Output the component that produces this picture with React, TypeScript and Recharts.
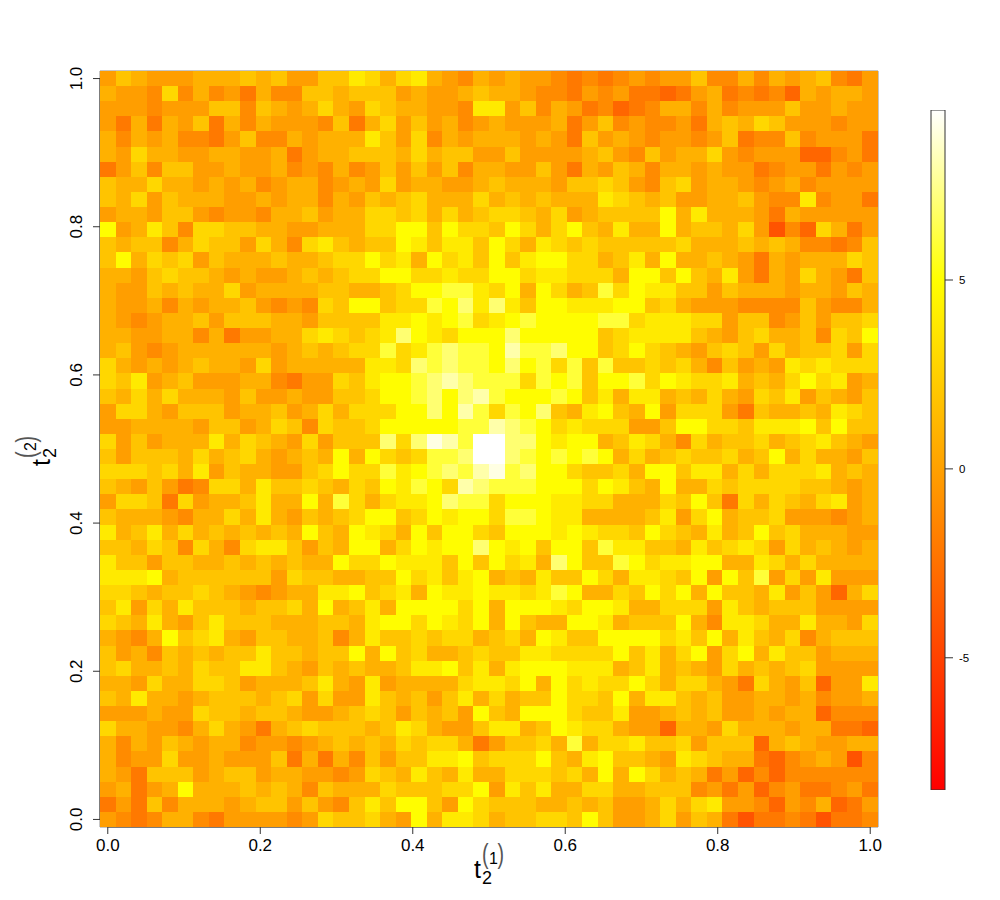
import * as React from "react";
import {
  BarChart,
  Bar,
  ScatterChart,
  Scatter,
  XAxis,
  YAxis,
  ReferenceArea,
  ReferenceLine,
} from "recharts";

const xTicks = [0, 0.2, 0.4, 0.6, 0.8, 1];
const yTicks = [0, 0.2, 0.4, 0.6, 0.8, 1];
const colorbarTicks = [-5, 0, 5];
const colorbarRange = [-8.5, 9.5];

// cell values, top row first, 50 columns per row
const heatRows: number[][] = [
  [0,2,1,0,0,0,1,1,1,2,1,2,0,0,2,2,4,3,1,3,4,1,0,-1,1, 0,1,0,0,-1,-2,-1,-2,-1,0,-1,0,0,2,-1,-1,1,-1,1,0,1,2,-1,-2,0],
  [1,0,0,-1,3,-1,1,-1,0,-2,1,-1,-1,2,2,1,2,2,2,0,1,0,0,1,2, 1,1,0,-1,-1,-2,0,-1,0,-2,-2,-3,-2,0,1,-2,-1,-2,-1,-3,1,0,1,1,0],
  [0,0,0,-1,0,0,0,2,2,-1,2,1,0,1,3,1,0,3,2,1,1,0,0,-1,4, 4,0,2,-1,1,0,-2,-1,-3,-2,-1,1,1,-1,1,-1,0,0,0,2,0,0,1,0,0],
  [0,-2,1,-2,1,0,2,-2,1,-1,1,0,0,0,-1,2,-2,1,3,0,2,0,1,-1,0, 1,0,0,0,1,-2,0,2,-1,0,-1,-1,0,-2,1,2,1,3,2,0,0,0,-1,0,0],
  [1,-1,1,0,1,-1,-1,-2,0,2,-1,-1,1,0,1,1,1,4,2,0,3,-1,1,0,1, 1,1,0,1,0,-2,2,0,1,0,-1,0,0,-1,0,2,-2,-1,-1,2,-1,0,0,0,-2],
  [1,0,3,1,1,0,0,1,1,0,0,1,-2,0,1,1,2,2,2,1,3,1,2,2,0, 0,2,0,0,0,0,1,2,0,-1,2,0,1,1,3,0,-1,0,0,0,-3,-3,-1,0,-2],
  [-2,0,2,-1,2,2,0,0,1,0,0,1,-1,0,-1,1,-1,0,2,0,2,0,2,-1,1, 1,0,0,2,0,-2,1,0,2,1,-1,1,1,0,1,0,0,-2,-1,0,0,-2,0,-1,0],
  [2,1,1,3,1,1,0,1,0,1,-1,0,1,1,-1,0,1,0,3,0,1,1,0,0,1, 2,1,1,1,0,2,2,3,2,0,-1,2,3,0,1,1,0,-1,0,1,-1,0,0,0,0],
  [2,1,3,0,2,1,1,1,0,0,1,0,1,1,-1,1,0,2,1,2,3,1,1,1,3, 1,2,1,2,1,1,1,4,3,2,1,2,0,0,1,1,2,0,-1,-1,4,-1,0,0,-2],
  [0,1,1,0,2,2,0,-1,0,0,-1,1,1,2,0,1,1,3,3,2,3,1,3,1,2, 3,3,2,1,3,0,1,2,2,2,2,5,1,4,1,1,1,0,-2,1,0,0,0,0,0],
  [5,0,1,4,2,-1,3,3,2,2,1,1,0,0,1,1,1,3,3,5,5,2,5,3,3, 2,5,3,1,3,5,2,1,4,1,1,5,1,2,2,1,3,0,-4,-1,-3,3,1,-2,0],
  [2,1,2,2,-1,1,3,2,2,0,3,1,-1,3,4,2,1,2,2,5,4,2,4,4,2, 5,3,1,4,3,2,3,2,2,2,2,2,3,1,1,1,2,1,2,1,-1,-1,-2,-1,2],
  [2,5,1,3,2,3,0,2,1,1,1,2,1,1,2,3,3,5,3,4,1,5,3,4,2, 5,2,4,5,5,3,3,1,2,4,1,5,1,1,2,1,0,-2,1,0,1,1,1,3,2],
  [1,1,0,2,3,2,2,1,0,1,0,0,1,2,1,2,3,3,5,5,3,3,4,3,3, 5,5,3,4,4,3,3,3,1,5,5,2,5,2,1,4,0,-2,1,0,3,1,0,-2,2],
  [1,0,0,2,1,2,1,1,3,0,1,1,1,1,2,2,1,1,2,3,5,5,6,6,4, 3,5,1,5,3,1,2,6,3,5,4,4,2,2,0,2,1,1,1,0,1,1,0,2,1],
  [1,0,0,1,-1,1,0,1,1,2,0,-1,0,-1,3,2,5,5,2,3,3,6,5,7,4, 7,4,2,5,5,4,4,4,5,5,2,3,1,0,0,0,-1,-1,-1,-1,2,0,-1,-1,1],
  [1,0,-1,0,1,1,2,0,2,2,2,1,1,0,2,2,2,2,4,4,5,4,5,6,3, 4,5,6,5,5,5,5,6,6,3,4,4,4,3,3,0,2,2,-1,0,2,0,2,2,3],
  [1,1,0,0,1,1,-1,1,-2,0,0,1,1,3,4,3,2,3,4,7,5,4,3,5,5, 5,7,5,5,5,5,5,2,3,4,4,4,4,2,1,0,2,3,1,1,2,-1,3,2,5],
  [1,2,0,-1,0,1,1,1,1,1,1,0,1,2,1,2,3,3,6,3,4,6,7,6,6, 5,8,6,6,7,5,5,2,3,5,3,2,1,0,2,3,2,0,3,1,2,2,3,0,3],
  [3,1,0,1,0,1,2,1,1,0,3,0,1,1,1,1,1,4,4,3,7,6,7,6,6, 5,7,5,6,3,6,2,6,2,2,3,2,3,1,-1,2,0,1,0,4,3,4,3,3,3],
  [3,2,4,0,1,2,0,0,0,1,1,-1,-2,0,0,3,2,4,5,5,6,7,8,7,6, 6,6,3,6,5,6,2,5,5,6,3,5,4,3,3,4,1,2,1,3,5,3,4,0,1],
  [2,1,3,1,3,1,1,1,0,2,0,0,1,0,0,2,2,3,5,5,6,7,5,7,8, 6,5,5,5,6,5,2,4,1,4,4,1,2,1,3,1,0,3,2,4,0,2,1,0,2],
  [0,3,3,1,0,2,2,2,0,1,1,2,0,1,3,1,3,3,3,5,5,7,5,8,6, 3,6,5,7,2,1,4,5,2,1,5,0,3,3,3,0,-2,2,1,1,2,1,4,3,2],
  [0,0,1,1,1,1,0,2,2,0,1,3,2,-1,3,2,2,3,5,5,5,5,5,6,6, 8,7,6,5,3,4,3,3,3,0,0,2,5,5,3,3,2,4,4,4,5,2,5,2,2],
  [3,0,2,0,1,1,1,4,1,3,2,1,0,3,0,2,2,2,7,3,7,9,8,6,9.5, 9.5,7,7,5,4,5,5,1,2,4,3,1,-1,3,1,2,2,3,1,2,3,4,2,1,0],
  [2,0,2,2,2,1,3,1,2,3,1,0,1,2,1,5,1,5,3,2,3,6,6,7,9.5, 9.5,7,6,5,6,5,6,5,1,3,1,2,3,2,2,3,1,2,5,1,3,1,1,0,2],
  [3,3,3,2,3,1,4,0,2,1,1,0,0,2,3,5,3,3,6,4,5,6,7,6,8, 9,6,7,5,5,3,2,2,3,1,5,5,2,4,4,1,3,1,3,3,3,4,1,2,1],
  [2,1,0,2,0,-2,-1,3,3,1,4,2,2,3,2,1,3,2,5,4,6,5,3,8,7, 6,6,6,5,5,5,3,5,4,2,1,5,1,1,3,2,3,3,3,3,2,2,1,0,1],
  [0,3,3,2,-2,3,0,1,1,2,4,1,1,5,1,6,3,1,3,4,4,5,7,6,6, 3,5,5,5,4,4,3,3,1,1,1,3,2,5,2,-2,3,1,3,2,1,3,4,0,1],
  [2,1,1,1,0,-1,1,1,3,1,4,1,0,2,1,2,3,5,5,2,3,5,4,5,5, 3,6,6,5,4,4,1,1,1,1,2,4,0,3,5,1,2,2,3,0,0,0,-1,0,1],
  [4,1,2,4,1,3,1,2,1,2,1,2,1,5,2,1,5,4,3,1,5,2,5,5,3, 2,5,5,5,4,5,4,3,3,2,5,3,2,1,4,1,2,5,2,3,1,1,1,0,0],
  [2,2,1,3,2,-1,3,1,-1,3,4,4,2,0,2,1,5,5,1,3,5,4,5,5,7, 5,4,5,2,5,5,2,6,4,4,2,2,1,4,2,3,4,3,0,3,1,2,1,0,1],
  [4,2,2,0,2,2,1,1,2,1,2,1,2,1,1,5,3,3,5,4,4,4,2,5,2, 5,3,4,1,7,5,2,2,6,5,3,4,4,5,5,1,1,4,3,1,3,1,1,1,1],
  [4,4,4,5,1,2,2,2,2,2,2,0,3,2,2,1,1,2,2,5,3,4,2,4,5, 1,2,1,4,2,2,5,3,1,4,4,3,2,5,0,5,2,6,0,3,0,4,0,0,0],
  [3,3,2,1,2,2,3,2,1,0,-1,0,1,1,4,4,5,2,3,4,1,5,4,4,5, 4,4,3,4,6,5,1,1,3,2,5,3,5,1,5,2,2,1,4,0,2,0,-3,1,3],
  [2,4,0,3,1,4,2,2,2,1,2,2,3,1,5,1,2,4,1,5,5,5,5,3,5, 1,5,5,5,4,3,5,5,4,1,1,3,3,3,0,4,2,1,2,2,2,0,0,0,0],
  [3,2,1,4,1,0,2,4,2,2,2,1,1,1,2,2,1,4,5,5,3,5,4,3,5, 1,5,2,1,1,5,5,4,1,2,2,2,5,1,-1,4,4,3,1,1,4,1,1,0,3],
  [1,0,-1,1,5,2,3,4,1,0,2,2,1,1,2,-1,1,4,2,2,3,2,3,3,1, 2,3,1,5,4,2,2,5,5,5,5,3,4,2,5,1,4,2,1,3,-1,1,2,2,2],
  [2,0,1,-1,2,1,2,1,2,2,4,2,2,1,2,2,5,1,5,2,3,1,1,2,3, 2,2,4,4,3,3,3,3,5,2,4,1,3,5,0,3,5,1,4,2,2,0,1,1,1],
  [2,3,1,1,2,1,3,2,2,4,4,2,1,0,2,1,2,1,1,2,4,4,5,2,4, 1,4,5,5,5,4,4,4,1,2,4,1,2,1,0,3,1,2,1,2,3,0,0,0,0],
  [1,1,0,3,1,1,3,3,2,0,1,1,1,2,4,1,0,4,0,1,1,1,1,3,4, 4,3,5,1,5,3,4,3,3,5,3,1,3,3,1,0,-2,3,1,0,2,-3,0,0,4],
  [2,1,4,1,1,0,1,2,2,2,1,2,3,0,3,0,0,4,2,1,2,0,2,4,1, 3,1,2,2,5,3,3,2,5,1,4,4,2,1,2,0,0,1,1,0,1,-1,0,0,1],
  [0,0,0,1,0,0,3,2,2,1,2,2,1,0,0,1,2,3,2,0,2,1,2,0,5, 2,1,5,5,5,3,2,2,4,0,0,1,2,1,2,0,0,1,0,1,1,-3,-1,-1,-1],
  [3,1,1,0,0,-1,1,3,1,0,-2,1,2,3,2,2,2,1,2,4,3,1,0,0,2, 4,4,1,2,5,4,3,3,1,0,0,-3,1,1,0,3,1,1,1,0,1,1,-2,-2,-3],
  [1,-1,1,0,2,1,0,1,1,-1,0,0,-1,0,1,2,1,2,1,3,2,3,3,1,-2, 0,2,2,3,1,6,1,3,3,4,2,2,3,0,2,2,2,-3,1,2,1,0,0,1,1],
  [1,-1,0,0,3,0,0,1,0,0,0,2,-2,1,-2,1,-1,2,0,2,2,4,4,5,2, 3,3,3,5,2,1,4,5,2,2,1,0,4,3,2,1,1,-2,-3,-1,0,1,0,-4,-1],
  [1,0,-2,2,2,2,0,1,2,2,0,1,1,0,0,-1,0,3,2,1,4,2,1,4,1, 1,3,3,3,2,3,1,5,1,5,3,1,2,1,-2,0,-3,-1,-3,-1,-1,-1,-1,-1,-1],
  [0,1,-2,0,1,5,1,1,1,2,1,2,1,-1,2,1,1,1,3,2,2,2,3,3,5, 0,4,2,4,1,1,3,3,1,1,2,2,2,-1,0,-2,0,-3,-1,0,-2,-2,-1,0,-2],
  [-2,0,-2,2,-1,1,1,1,0,1,2,2,0,2,0,-1,2,4,2,5,5,2,0,5,3, 2,2,2,1,1,2,1,2,0,0,1,3,1,3,4,0,0,-1,-3,0,-1,1,-3,-2,0],
  [0,-1,-2,-1,1,1,-1,-2,0,0,0,0,-1,0,3,2,2,3,1,0,5,1,4,4,3, 1,2,2,3,3,2,5,2,0,0,1,3,0,2,1,-2,-4,-2,-2,-1,-2,-4,-2,-2,-1],
];

const plotLeft = 100;
const plotTop = 71;
const plotWidth = 778;
const plotHeight = 756;
const axisRoom = 40;
const nCols = 50;
const nRows = 50;
const cellW = plotWidth / nCols;
const cellH = plotHeight / nRows;
const halfStep = 1 / (nCols - 1) / 2;
const domain: [number, number] = [-halfStep, 1 + halfStep];

const fontFamily = '"Liberation Sans", Arial, sans-serif';

// same ramp as R's heat.colors: red to yellow up to 5, then yellow to white
// the whole-number readings run slightly high, so the low part is pulled down a little
const readingBias = 0.12;

function heatColor(v: number) {
  if (v <= 5) {
    const g = Math.round(((v - readingBias - colorbarRange[0]) / 13.5) * 255);
    return `rgb(255,${g},0)`;
  }
  const b = Math.min(255, Math.round(((v - 5) / 4.5) * 255));
  return `rgb(255,255,${b})`;
}

const cells = heatRows.flatMap((row, r) =>
  row.map((v, c) => ({ x: c / (nCols - 1), y: 1 - r / (nRows - 1), v }))
);

const colorbarData = [{ name: "scale", range: colorbarRange }];

function HeatCell(props: any) {
  const { cx, cy, payload } = props;
  return (
    <rect
      x={cx - cellW / 2}
      y={cy - cellH / 2}
      width={cellW}
      height={cellH}
      fill={heatColor(payload.v)}
      shapeRendering="crispEdges"
    />
  );
}

function XTick({ x, y, payload }: any) {
  return (
    <text x={x} y={y + 15} textAnchor="middle" fontSize={17} fontFamily={fontFamily} fill="#000">
      {payload.value.toFixed(1)}
    </text>
  );
}

function YTick({ x, y, payload }: any) {
  return (
    <text
      transform={`translate(${x - 9},${y}) rotate(-90)`}
      textAnchor="middle"
      fontSize={17}
      fontFamily={fontFamily}
      fill="#000"
    >
      {payload.value.toFixed(1)}
    </text>
  );
}

function ColorbarTick({ y, payload }: any) {
  return (
    <text x={59} y={y + 4} textAnchor="start" fontSize={11.5} fontFamily={fontFamily} fill="#000">
      {payload.value}
    </text>
  );
}

// t with subscript 2 and a bracketed superscript, drawn from the t's baseline
function AxisTitle({ transform, sup }: { transform: string; sup: string }) {
  return (
    <g transform={transform} fontFamily={fontFamily} fill="#000">
      <text x={0} y={0} fontSize={25}>t</text>
      <text x={8} y={6} fontSize={18}>2</text>
      <text transform="translate(8,-15) scale(0.7,1)" fontSize={28} fill="#555">(</text>
      <text x={15} y={-14} fontSize={16}>{sup}</text>
      <text transform="translate(23.5,-15) scale(0.7,1)" fontSize={28} fill="#555">)</text>
    </g>
  );
}

export default function App() {
  return (
    <div style={{ position: "absolute", left: 0, top: 0, width: 1000, height: 900, background: "#fff" }}>
      <div style={{ position: "absolute", left: 0, top: 0 }}>
        <ScatterChart
          width={1000}
          height={900}
          margin={{
            left: plotLeft - axisRoom,
            top: plotTop,
            right: 1000 - plotLeft - plotWidth,
            bottom: 900 - plotTop - plotHeight - axisRoom,
          }}
        >
          <XAxis
            type="number"
            dataKey="x"
            domain={domain}
            ticks={xTicks}
            height={axisRoom}
            axisLine={false}
            tickSize={7}
            tickLine={{ stroke: "#333" }}
            tick={XTick}
            allowDataOverflow
          />
          <YAxis
            type="number"
            dataKey="y"
            domain={domain}
            ticks={yTicks}
            width={axisRoom}
            axisLine={false}
            tickSize={7}
            tickLine={{ stroke: "#333" }}
            tick={YTick}
            allowDataOverflow
          />
          <Scatter data={cells} shape={HeatCell} isAnimationActive={false} />
          <ReferenceArea
            x1={domain[0]}
            x2={domain[1]}
            y1={domain[0]}
            y2={domain[1]}
            fill="none"
            stroke="#8c8c8c"
            strokeWidth={1}
          />
          <ReferenceLine
            segment={[
              { x: 0, y: domain[0] },
              { x: 1, y: domain[0] },
            ]}
            stroke="#333"
            isFront
          />
          <ReferenceLine
            segment={[
              { x: domain[0], y: 0 },
              { x: domain[0], y: 1 },
            ]}
            stroke="#333"
            isFront
          />
          <AxisTitle transform="translate(474,878)" sup="1" />
          <AxisTitle transform="translate(50,466) rotate(-90)" sup="2" />
        </ScatterChart>
      </div>
      <div style={{ position: "absolute", left: 900, top: 0 }}>
        <BarChart
          width={100}
          height={900}
          data={colorbarData}
          margin={{ left: 31, right: 15, top: 110, bottom: 110 }}
          barCategoryGap={0}
        >
          <defs>
            <linearGradient id="heatRamp" x1="0" y1="1" x2="0" y2="0">
              <stop offset="0" stopColor="#ff0000" />
              <stop offset="0.75" stopColor="#ffff00" />
              <stop offset="1" stopColor="#ffffff" />
            </linearGradient>
          </defs>
          <XAxis dataKey="name" hide />
          <YAxis
            orientation="right"
            type="number"
            domain={colorbarRange}
            ticks={colorbarTicks}
            width={40}
            axisLine={false}
            tickSize={8}
            tickLine={{ stroke: "#333" }}
            tick={ColorbarTick}
            allowDataOverflow
          />
          <Bar dataKey="range" fill="url(#heatRamp)" stroke="#333" strokeWidth={1} isAnimationActive={false} />
        </BarChart>
      </div>
    </div>
  );
}
